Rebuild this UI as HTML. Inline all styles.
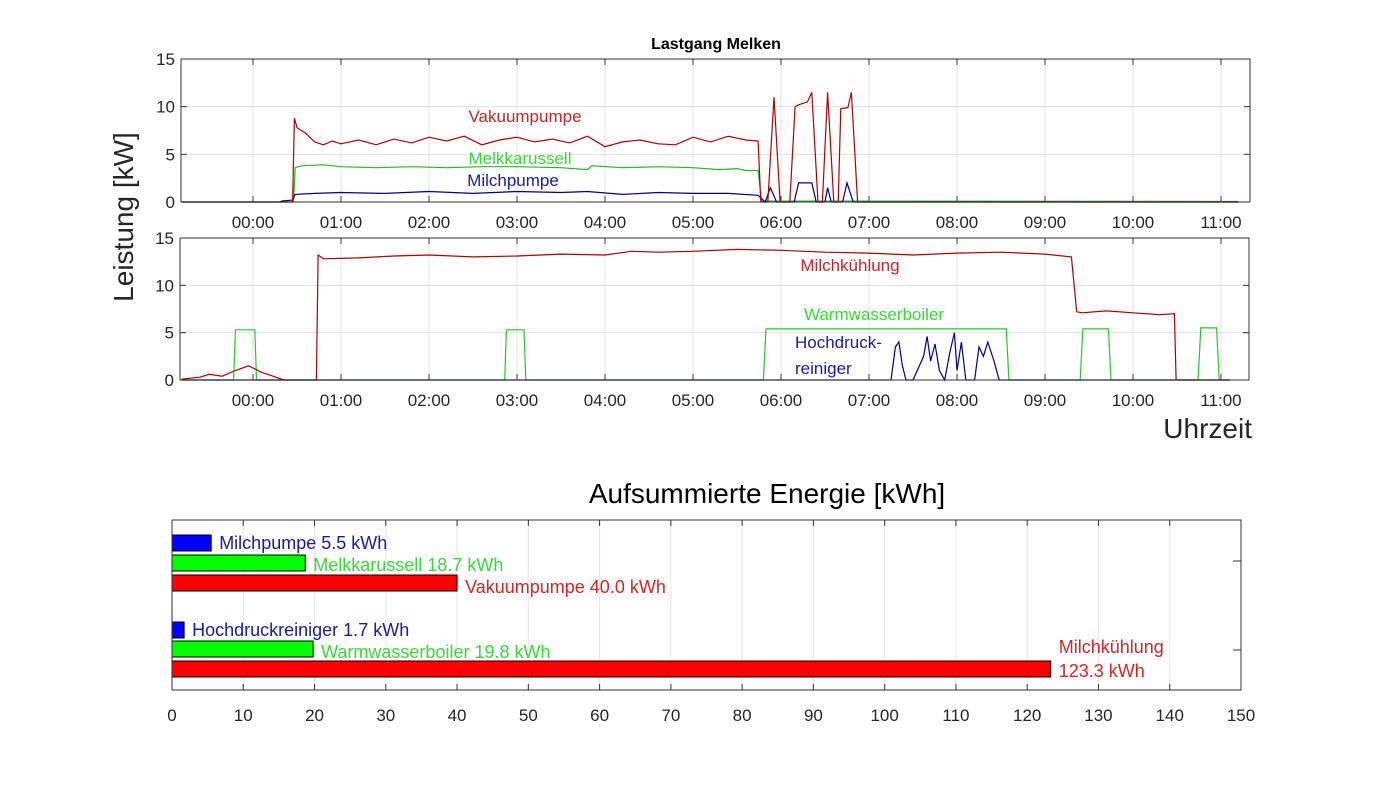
<!DOCTYPE html>
<html><head><meta charset="utf-8"><style>
body{margin:0;background:#fff;}
svg{display:block;font-family:"Liberation Sans",Arial,sans-serif;}
</style></head><body>
<svg id="c" width="1382" height="786" viewBox="0 0 1382 786"></svg>
<script>
// ---------- data ----------
const hourTicks=[0,1,2,3,4,5,6,7,8,9,10,11];
const hourLabels=["00:00","01:00","02:00","03:00","04:00","05:00","06:00","07:00","08:00","09:00","10:00","11:00"];
const powerTicks=[0,5,10,15];
const vakT=[-0.81,0.45,0.47,0.5,0.6,0.7,0.8,0.9,1.0,1.2,1.4,1.6,1.8,2.0,2.2,2.4,2.6,2.8,3.0,3.2,3.4,3.6,3.8,4.0,4.2,4.4,4.6,4.8,5.0,5.2,5.4,5.6,5.74,5.77,5.85,5.92,5.99,6.1,6.16,6.2,6.3,6.35,6.42,6.47,6.53,6.6,6.65,6.68,6.76,6.8,6.87,11.2];
const vakV=[0,0,8.8,7.8,7.2,6.3,6.0,6.4,6.1,6.5,6.0,6.6,6.2,6.8,6.4,6.9,6.0,6.5,6.8,6.3,6.6,6.2,6.9,5.8,6.3,6.5,6.1,6.0,6.8,6.3,6.9,6.5,6.4,0,0,11,0,0,10,10.2,10.5,11.5,0,0,11.5,0,0,9.8,9.9,11.5,0,0];
const melkT=[-0.81,0.46,0.48,0.55,0.8,1.0,1.4,1.8,2.2,2.6,3.0,3.5,3.8,3.85,4.2,4.6,5.0,5.3,5.5,5.6,5.74,5.78,11.2];
const melkV=[0,0,3.6,3.8,3.9,3.7,3.6,3.7,3.6,3.7,3.7,3.6,3.4,3.8,3.6,3.7,3.6,3.4,3.5,3.3,3.3,0.1,0.05];
const pumpT=[-0.81,0.3,0.33,0.45,0.48,0.7,1.0,1.5,2.0,2.5,3.0,3.5,3.8,4.2,4.6,5.0,5.4,5.74,5.82,5.88,5.95,6.15,6.2,6.35,6.4,6.5,6.53,6.57,6.7,6.75,6.82,11.2];
const pumpV=[0,0,0.1,0.2,0.8,0.9,1.0,0.9,1.1,0.9,1.1,1.0,1.1,0.8,1.0,0.9,0.9,0.7,0,1.5,0,0,2,2,0,0,1.5,0,0,2,0,0];
const kuehlT=[-0.81,-0.6,-0.5,-0.35,-0.2,-0.05,0.1,0.2,0.35,0.72,0.74,0.8,1.2,1.6,2.0,2.5,3.0,3.5,4.0,4.3,4.6,5.0,5.5,6.0,6.5,7.0,7.5,8.0,8.5,9.0,9.3,9.36,9.42,9.7,10.0,10.3,10.47,10.49,11.1];
const kuehlV=[0.1,0.3,0.6,0.4,1.0,1.5,0.8,0.5,0,0,13.2,12.8,12.9,13.1,13.2,13.0,13.1,13.3,13.2,13.6,13.5,13.6,13.8,13.7,13.5,13.4,13.2,13.4,13.5,13.3,13.0,7.2,7.1,7.3,7.1,6.9,7.0,0,0];
const boilT=[-0.81,-0.22,-0.2,0.02,0.04,2.86,2.88,3.08,3.1,5.8,5.83,8.56,8.59,9.4,9.43,9.72,9.75,10.74,10.77,10.95,10.98,11.1];
const boilV=[0,0,5.3,5.3,0,0,5.3,5.3,0,0,5.4,5.4,0,0,5.4,5.4,0,0,5.5,5.5,0,0];
const hdT=[-0.81,7.25,7.3,7.34,7.38,7.42,7.5,7.62,7.66,7.7,7.75,7.8,7.86,7.92,7.97,8.0,8.05,8.1,8.2,8.25,8.3,8.35,8.42,8.48,11.1];
const hdV=[0,0,3.5,4.0,1.5,0,0,2.5,4.6,2.0,3.8,1.0,0,3.0,5.0,1.0,4.0,0,0,3.5,2.5,4.0,2.0,0,0];
const barNames=["Milchpumpe","Melkkarussell","Vakuumpumpe","Hochdruckreiniger","Warmwasserboiler","Milchkühlung"];
const barValues=[5.5,18.7,40.0,1.7,19.8,123.3];
const energyTicks=[0,10,20,30,40,50,60,70,80,90,100,110,120,130,140,150];

// ---------- helpers ----------
const NS="http://www.w3.org/2000/svg";const svg=document.getElementById('c');
function mk(tag,attrs,parent){const e=document.createElementNS(NS,tag);for(const k in attrs)e.setAttribute(k,attrs[k]);(parent||svg).appendChild(e);return e;}
function txt(s,attrs,parent){const e=mk('text',attrs,parent);e.textContent=s;return e;}
const X0=253,PXH=88;const xT=t=>X0+t*PXH;
const defs=mk('defs',{});
function panel(name,top,bottom,left,right,series){
  const g=mk('g',{});
  const yV=v=>bottom-(v/15)*(bottom-top);
  const cp=mk('clipPath',{id:'clip-'+name},defs);mk('rect',{x:left,y:top-2,width:right-left,height:bottom-top+4},cp);
  mk('rect',{x:left,y:top,width:right-left,height:bottom-top,fill:'#fff'},g);
  hourTicks.forEach((h,i)=>{const x=xT(h);
    const l=mk('line',{x1:x,x2:x,y1:top,y2:bottom,stroke:'#e3e3e3','stroke-width':1},g);
    
    mk('line',{x1:x,x2:x,y1:top,y2:top+6,stroke:'#333'},g);mk('line',{x1:x,x2:x,y1:bottom,y2:bottom-6,stroke:'#333'},g);
    const tl=txt(hourLabels[i],{x:x,y:bottom+26,'text-anchor':'middle','font-size':17,fill:'#262626'},g);
    });
  powerTicks.forEach(v=>{const y=yV(v);
    if(v>0&&v<15){const l=mk('line',{x1:left,x2:right,y1:y,y2:y,stroke:'#e3e3e3'},g);}
    mk('line',{x1:left,x2:left+6,y1:y,y2:y,stroke:'#333'},g);mk('line',{x1:right,x2:right-6,y1:y,y2:y,stroke:'#333'},g);
    const tl=txt(String(v),{x:left-6,y:y+6,'text-anchor':'end','font-size':17,fill:'#262626'},g);
    });
  const sg=mk('g',{'clip-path':'url(#clip-'+name+')'},g);
  series.forEach(s=>{const pts=s.t.map((t,i)=>xT(t).toFixed(1)+','+yV(s.v[i]).toFixed(1)).join(' ');
    const p=mk('polyline',{points:pts,fill:'none',stroke:s.c,'stroke-width':1.2},sg);
    });
  mk('rect',{x:left,y:top,width:right-left,height:bottom-top,fill:'none',stroke:'#333'},g);
}
// ---------- top panels ----------
panel('melken-panel',59,202,181,1250,[
  {n:'melkkarussell-line',t:melkT,v:melkV,c:'#22bb22'},
  {n:'milchpumpe-line',t:pumpT,v:pumpV,c:'#000090'},
  {n:'vakuumpumpe-line',t:vakT,v:vakV,c:'#b00000'}]);
panel('kuehlung-panel',238,380,180,1249,[
  {n:'warmwasserboiler-line',t:boilT,v:boilV,c:'#22cc22'},
  {n:'hochdruckreiniger-line',t:hdT,v:hdV,c:'#000090'},
  {n:'milchkuehlung-line',t:kuehlT,v:kuehlV,c:'#b00000'}]);
</script>
<script>
const S=document.getElementById('c');
function T(s,a,name){const e=document.createElementNS("http://www.w3.org/2000/svg",'text');for(const k in a)e.setAttribute(k,a[k]);e.textContent=s;S.appendChild(e);


return e;}
T('Lastgang Melken',{x:716,y:49,'text-anchor':'middle','font-size':16,'font-weight':'bold',fill:'#000'},'top-title');
T('Vakuumpumpe',{x:525,y:122,'text-anchor':'middle','font-size':17,fill:'#cc2222'},'vakuumpumpe-label');
T('Melkkarussell',{x:520,y:164,'text-anchor':'middle','font-size':17,fill:'#33dd33'},'melkkarussell-label');
T('Milchpumpe',{x:513,y:186,'text-anchor':'middle','font-size':17,fill:'#1a1aa8'},'milchpumpe-label');
T('Milchkühlung',{x:850,y:271,'text-anchor':'middle','font-size':17,fill:'#cc2222'},'milchkuehlung-label');
T('Warmwasserboiler',{x:874,y:320,'text-anchor':'middle','font-size':17,fill:'#33dd33'},'warmwasserboiler-label');
T('Hochdruck-',{x:795,y:348,'font-size':17,fill:'#1a1aa8'},'hochdruckreiniger-label-1');
T('reiniger',{x:795,y:374,'font-size':17,fill:'#1a1aa8'},'hochdruckreiniger-label-2');
T('Leistung [kW]',{x:0,y:0,'text-anchor':'middle','font-size':28,fill:'#262626',transform:'translate(133,217) rotate(-90)'},'y-axis-title');
T('Uhrzeit',{x:1252,y:438,'text-anchor':'end','font-size':28,fill:'#262626'},'x-axis-title');
T('Aufsummierte Energie [kWh]',{x:767,y:503,'text-anchor':'middle','font-size':28,fill:'#000'},'bar-chart-title');

// ---------- bar chart ----------
const BL=172,BR=1241,BT=520,BB=690;const xE=v=>BL+v/150*(BR-BL);
const NSb="http://www.w3.org/2000/svg";
function M(tag,a){const e=document.createElementNS(NSb,tag);for(const k in a)e.setAttribute(k,a[k]);S.appendChild(e);return e;}
M('rect',{x:BL,y:BT,width:BR-BL,height:BB-BT,fill:'#fff'});
energyTicks.forEach(v=>{const x=xE(v);
  const g=M('line',{x1:x,x2:x,y1:BT,y2:BB,stroke:'#e6e6e6'});
  
  
  M('line',{x1:x,x2:x,y1:BT,y2:BT+6,stroke:'#333'});M('line',{x1:x,x2:x,y1:BB,y2:BB-6,stroke:'#333'});
  T(String(v),{x:x,y:721,'text-anchor':'middle','font-size':17,fill:'#262626'},'energy-tick-label');});
[561,650].forEach(y=>{M('line',{x1:BL,x2:BL+8,y1:y,y2:y,stroke:'#333'});M('line',{x1:BR,x2:BR-8,y1:y,y2:y,stroke:'#333'});});
const barY=[543,563,583,630,649,669];
const barFill=['#0000ff','#00ff00','#ff0000','#0000ff','#00ff00','#ff0000'];
const labCol=['#1a1aa8','#33dd33','#dd2222','#1a1aa8','#33dd33','#dd2222'];
const labDy=[0,2,4,0,3,0];
barValues.forEach((v,i)=>{
  const r=M('rect',{x:BL,y:barY[i]-8,width:xE(v)-BL,height:16,fill:barFill[i],stroke:'#000','stroke-width':1});
  
  
  if(i<5){T(barNames[i]+' '+v.toFixed(1)+' kWh',{x:xE(v)+8,y:barY[i]+6+labDy[i],'font-size':18,fill:labCol[i]},'bar-value-label');}
  else{T(barNames[i],{x:xE(v)+8,y:653,'font-size':18,fill:labCol[i]},'bar-value-label');
       T(v.toFixed(1)+' kWh',{x:xE(v)+8,y:677,'font-size':18,fill:labCol[i]},'bar-value-label-unit');}
});
M('rect',{x:BL,y:BT,width:BR-BL,height:BB-BT,fill:'none',stroke:'#333'});
</script>
</body></html>
